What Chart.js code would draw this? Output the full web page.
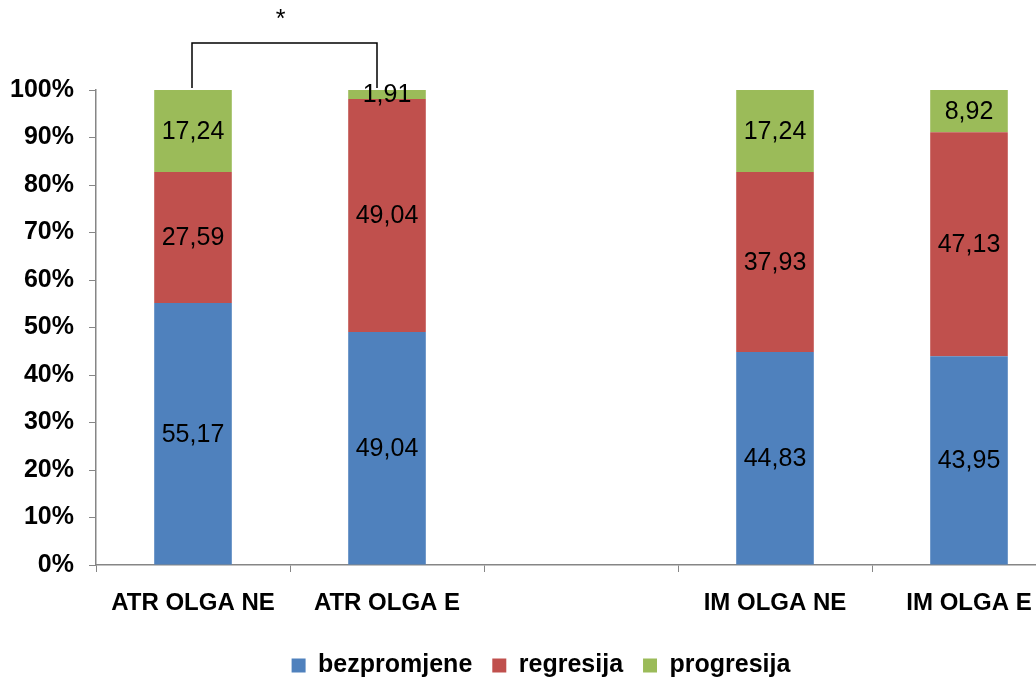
<!DOCTYPE html>
<html>
<head>
<meta charset="utf-8">
<script src="https://cdn.jsdelivr.net/npm/chart.js@4/dist/chart.umd.min.js"></script>
<style>
  html, body { margin: 0; padding: 0; background: #fff; overflow: hidden; }
  #wrap { width: 1066px; height: 677px; }
</style>
</head>
<body>
<div id="wrap"><canvas id="chart" width="1066" height="677"></canvas></div>
<script>
    "use strict";

    // Categories (the middle one is an empty spacer)
    const categories = ['ATR OLGA NE', 'ATR OLGA E', '', 'IM OLGA NE', 'IM OLGA E'];

    // Series values (%)
    const bezpromjene = [55.17, 49.04, null, 44.83, 43.95];
    const regresija   = [27.59, 49.04, null, 37.93, 47.13];
    const progresija  = [17.24, 1.91, null, 17.24, 8.92];

    const seriesNames = ['bezpromjene', 'regresija', 'progresija'];
    const seriesColors = ['#4F81BD', '#C0504D', '#9BBB59'];

    const axisColor = '#868686';
    const fontFamily = '"Liberation Sans", Arial, sans-serif';

    // Draw values in the middle of each segment
    const segmentLabels = {
        id: 'segmentLabels',
        afterDatasetsDraw(chart) {
            const ctx = chart.ctx;
            ctx.save();
            ctx.font = '25px ' + fontFamily;
            ctx.fillStyle = '#000';
            ctx.textAlign = 'center';
            ctx.textBaseline = 'middle';
            chart.data.datasets.forEach(function(ds, i) {
                const meta = chart.getDatasetMeta(i);
                meta.data.forEach(function(bar, j) {
                    const v = ds.data[j];
                    if (v === null || v === undefined) return;
                    const y = (bar.y + bar.base) / 2;
                    ctx.fillText(v.toFixed(2).replace('.', ','), bar.x, y + 1);
                });
            });
            ctx.restore();
        }
    };

    // Significance bracket between the two ATR bars
    const bracket = {
        id: 'bracket',
        afterDraw(chart) {
            const ctx = chart.ctx;
            const xs = chart.scales.x;
            const top = chart.chartArea.top;
            const x0 = xs.getPixelForValue(0) - 1;
            const x1 = xs.getPixelForValue(1) - 10;
            const yTop = top - 47;
            const yEnd = top - 2;
            ctx.save();
            ctx.strokeStyle = '#000';
            ctx.lineWidth = 1.5;
            ctx.beginPath();
            ctx.moveTo(x0, yEnd);
            ctx.lineTo(x0, yTop);
            ctx.lineTo(x1, yTop);
            ctx.lineTo(x1, yEnd);
            ctx.stroke();
            ctx.font = '25px ' + fontFamily;
            ctx.fillStyle = '#000';
            ctx.textAlign = 'center';
            ctx.textBaseline = 'middle';
            ctx.fillText('*', (x0 + x1) / 2 - 4, top - 70);
            ctx.restore();
        }
    };

    // Nudge the legend a little to the right, like the original
    const legendShift = {
        id: 'legendShift',
        afterLayout(chart) {
            if (chart.legend) {
                chart.legend.left += 8;
                chart.legend.right += 8;
            }
        }
    };

    const datasets = [bezpromjene, regresija, progresija].map(function(values, i) {
        return {
            label: seriesNames[i],
            data: values,
            backgroundColor: seriesColors[i],
            borderWidth: 0,
            barPercentage: 0.4,
            categoryPercentage: 1.0
        };
    });

    new Chart(document.getElementById('chart'), {
        type: 'bar',
        data: { labels: categories, datasets: datasets },
        options: {
            responsive: false,
            animation: false,
            layout: { padding: { top: 90, right: 0, left: 0, bottom: -11 } },
            plugins: {
                tooltip: { enabled: false },
                legend: {
                    display: true,
                    position: 'bottom',
                    labels: {
                        boxWidth: 14,
                        boxHeight: 14,
                        padding: 20,
                        color: '#000',
                        font: { family: fontFamily, size: 25, weight: 'bold' }
                    }
                }
            },
            scales: {
                x: {
                    stacked: true,
                    grid: {
                        offset: true,
                        drawOnChartArea: false,
                        drawTicks: true,
                        tickLength: 7,
                        color: axisColor
                    },
                    border: { color: axisColor, width: 1.5 },
                    ticks: {
                        color: '#000',
                        padding: 17,
                        maxRotation: 0,
                        font: { family: fontFamily, size: 24, weight: 'bold' }
                    },
                    afterFit: function(scale) { scale.height = 68; }
                },
                y: {
                    stacked: true,
                    min: 0,
                    max: 100,
                    grid: {
                        drawOnChartArea: false,
                        drawTicks: true,
                        tickLength: 7,
                        color: axisColor
                    },
                    border: { color: axisColor, width: 1.5 },
                    ticks: {
                        stepSize: 10,
                        color: '#000',
                        padding: 15,
                        font: { family: fontFamily, size: 25, weight: 'bold' },
                        callback: function(value) { return value + '%'; }
                    },
                    afterFit: function(scale) { scale.width = 96; }
                }
            }
        },
        plugins: [segmentLabels, bracket, legendShift]
    });
</script>
</body>
</html>
